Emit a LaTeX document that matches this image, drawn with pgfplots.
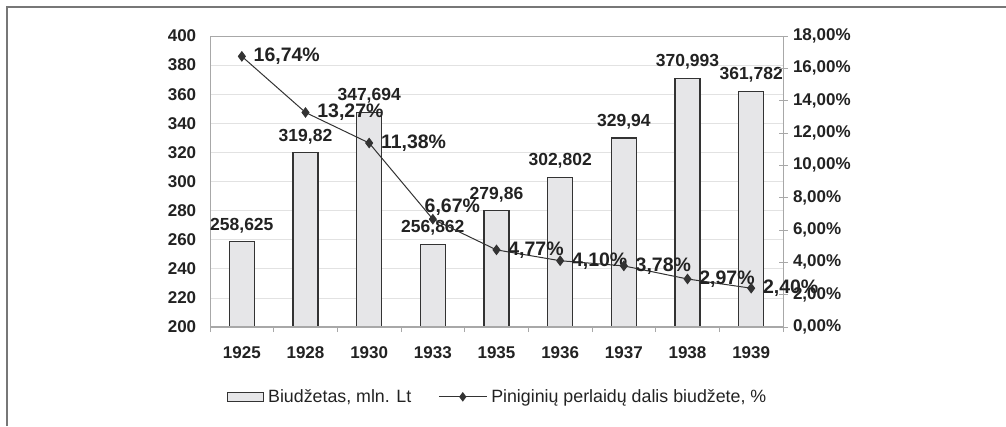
\documentclass[border=0pt]{standalone}
\usepackage{pgfplots}
\pgfplotsset{compat=1.18}
\usepackage{fontspec}
\setmainfont{Liberation Sans}
\definecolor{barfill}{HTML}{E6E6E8}
\definecolor{dark}{HTML}{333333}
\definecolor{txt}{HTML}{222222}
\definecolor{gridc}{HTML}{E2E2E2}
\definecolor{spine}{HTML}{A8A8A8}
\definecolor{framec}{HTML}{777777}
\newcommand\tickfont{\fontsize{17}{20}\selectfont\bfseries}
\newcommand\barfont{\fontsize{17.5}{20}\selectfont\bfseries}
\newcommand\pctfont{\fontsize{19.5}{22}\selectfont\bfseries}
\newcommand\legfont{\fontsize{17.8}{20}\selectfont}
\pgfplotsset{/pgf/number format/assume math mode=true}
\pgfplotstableread{
x y label
0 258.625 258,625
1 319.82 319,82
2 347.694 347,694
3 256.862 256,862
4 279.86 279,86
5 302.802 302,802
6 329.94 329,94
7 370.993 370,993
8 361.782 361,782
}\budget
\pgfplotstableread{
x y label
0 16.74 16,74\%
1 13.27 13,27\%
2 11.38 11,38\%
3 6.67 6,67\%
4 4.77 4,77\%
5 4.10 4,10\%
6 3.78 3,78\%
7 2.97 2,97\%
8 2.40 2,40\%
}\share
\begin{document}
\begin{tikzpicture}
\path[use as bounding box] (0pt,0pt) rectangle (1006pt,426pt);
\draw[framec, line width=1.4pt] (7pt,0pt) -- (7pt,419pt) -- (1006pt,419pt);
\begin{axis}[
  at={(210pt,99pt)}, anchor=south west,
  scale only axis, width=573pt, height=291pt,
  xmin=-0.5, xmax=8.5, ymin=200, ymax=400,
  clip mode=individual,
  axis line style={spine, line width=0.8pt},
  ytick={200,220,...,400},
  ymajorgrids, grid style={gridc, line width=0.8pt},
  ytick pos=left, xtick pos=bottom,
  xtick={0,...,8},
  xticklabels={1925,1928,1930,1933,1935,1936,1937,1938,1939},
  minor xtick={-0.5,0.5,...,8.5},
  tick align=outside, minor tick length=5pt,
  major tick style={draw=none},
  minor tick style={spine, line width=0.8pt},
  tick label style={font=\tickfont, text=txt},
  yticklabel style={xshift=-6pt},
  xticklabel style={yshift=-12pt},
]
\addplot[ybar, bar width=25pt, fill=barfill, draw=dark, line width=1.2pt,
  nodes near coords, point meta=explicit symbolic,
  every node near coord/.append style={font=\barfont, text=txt, yshift=5pt}]
  table[x=x, y=y, meta=label] {\budget};
\draw[spine, line width=1.6pt] (rel axis cs:0,0) -- (rel axis cs:1,0);
\end{axis}
\begin{axis}[
  at={(210pt,99pt)}, anchor=south west,
  scale only axis, width=573pt, height=291pt,
  xmin=-0.5, xmax=8.5, ymin=0, ymax=18,
  axis y line*=right, axis x line=none,
  axis line style={spine, line width=0.8pt},
  ytick={0,2,...,18},
  tick align=center, major tick length=9pt,
  major tick style={spine, line width=0.8pt},
  yticklabel={\pgfmathprintnumber[fixed, fixed zerofill, precision=2, use comma]{\tick}\%},
  tick label style={font=\tickfont, text=txt},
  yticklabel style={xshift=2pt},
  legend style={at={(0.502,-0.240)}, anchor=center, draw=none, fill=none,
    font=\legfont, text=txt, legend columns=2,
    /tikz/every odd column/.append style={column sep=2pt},
    /tikz/every even column/.append style={column sep=25pt}},
]
\addlegendimage{legend image code/.code={\draw[fill=barfill, draw=dark, line width=1.2pt] (0pt,-4.5pt) rectangle (36pt,4.5pt);}}
\addlegendentry{Biudžetas, mln. Lt}
\addplot[dark, line width=1pt, mark=diamond*, mark size=4.6pt,
  mark options={fill=dark, draw=dark},
  nodes near coords, point meta=explicit symbolic,
  every node near coord/.append style={font=\pctfont, text=txt, anchor=west, xshift=8pt},
  coordinate style/.condition={\coordindex==3}{xshift=-20pt, yshift=12pt},
  legend image code/.code={\draw[dark, line width=1pt] (0pt,0pt) -- (48pt,0pt);
    \path[draw=dark, fill=dark, mark size=4pt] plot[mark=diamond*] coordinates {(24pt,0pt)};}]
  table[x=x, y=y, meta=label] {\share};
\addlegendentry{Piniginių perlaidų dalis biudžete, \%}
\end{axis}
\end{tikzpicture}
\end{document}
